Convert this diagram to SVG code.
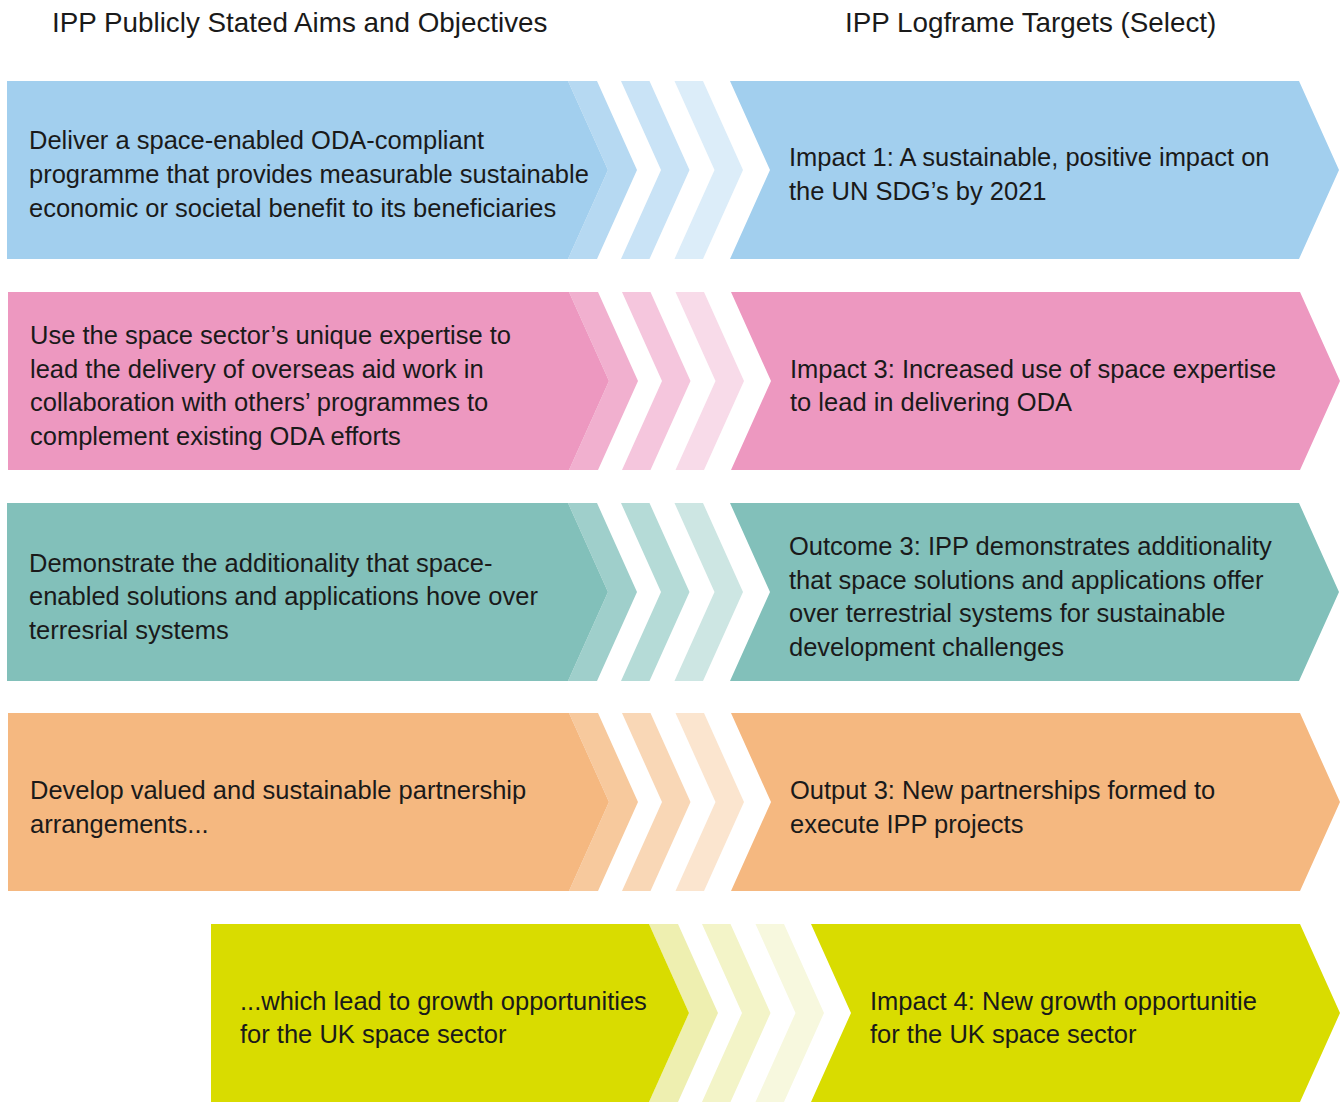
<svg xmlns="http://www.w3.org/2000/svg" width="1341" height="1102" viewBox="0 0 1341 1102">
<style>
text{font-family:"Liberation Sans","DejaVu Sans",sans-serif;font-size:25.5px;fill:#1a1a1a}
.hd{font-size:27.8px}
.blue0{fill:#a2cfee}.blue1{fill:#b6d9f2}.blue2{fill:#c9e3f6}.blue3{fill:#dcedf9}
.pink0{fill:#ed98c0}.pink1{fill:#f1b0cf}.pink2{fill:#f5c6dd}.pink3{fill:#f8dbe9}
.teal0{fill:#82c0ba}.teal1{fill:#9fcfcb}.teal2{fill:#b5dbd7}.teal3{fill:#cde6e3}
.orng0{fill:#f5b880}.orng1{fill:#f7c99d}.orng2{fill:#f9d7b6}.orng3{fill:#fbe5cf}
.yel0{fill:#d9dc00}.yel1{fill:#eeefb0}.yel2{fill:#f3f4c8}.yel3{fill:#f7f8de}
</style>
<rect width="1341" height="1102" fill="#ffffff"/>
<g id="headers">
<text class="hd" x="52" y="32">IPP Publicly Stated Aims and Objectives</text>
<text class="hd" x="845" y="32">IPP Logframe Targets (Select)</text>
</g>
<g id="connectors">
<path class="blue1" d="M568,81H597L637,170L597,259H568L608,170Z"/>
<path class="blue2" d="M621,81H649.5L689.5,170L649.5,259H621L661,170Z"/>
<path class="blue3" d="M674.5,81H703L743,170L703,259H674.5L714.5,170Z"/>
<path class="pink1" d="M569,292H598L638,381L598,470H569L609,381Z"/>
<path class="pink2" d="M622,292H650.5L690.5,381L650.5,470H622L662,381Z"/>
<path class="pink3" d="M675.5,292H704L744,381L704,470H675.5L715.5,381Z"/>
<path class="teal1" d="M568,503H597L637,592L597,681H568L608,592Z"/>
<path class="teal2" d="M621,503H649.5L689.5,592L649.5,681H621L661,592Z"/>
<path class="teal3" d="M674.5,503H703L743,592L703,681H674.5L714.5,592Z"/>
<path class="orng1" d="M569,713H598L638,802L598,891H569L609,802Z"/>
<path class="orng2" d="M622,713H650.5L690.5,802L650.5,891H622L662,802Z"/>
<path class="orng3" d="M675.5,713H704L744,802L704,891H675.5L715.5,802Z"/>
<path class="yel1" d="M649,924H678L718,1013L678,1102H649L689,1013Z"/>
<path class="yel2" d="M702,924H730.5L770.5,1013L730.5,1102H702L742,1013Z"/>
<path class="yel3" d="M755.5,924H784L824,1013L784,1102H755.5L795.5,1013Z"/>
</g>
<g id="aim1">
<path class="blue0" d="M7,81H568L608,170L568,259H7Z"/>
<text x="29" y="149">Deliver a space-enabled ODA-compliant</text>
<text x="29" y="183">programme that provides measurable sustainable</text>
<text x="29" y="217">economic or societal benefit to its beneficiaries</text>
</g>
<g id="target1">
<path class="blue0" d="M730,81H1299L1339,170L1299,259H730L770,170Z"/>
<text x="789" y="166">Impact 1: A sustainable, positive impact on</text>
<text x="789" y="200">the UN SDG’s by 2021</text>
</g>
<g id="aim2">
<path class="pink0" d="M8,292H569L609,381L569,470H8Z"/>
<text x="30" y="344">Use the space sector’s unique expertise to</text>
<text x="30" y="378">lead the delivery of overseas aid work in</text>
<text x="30" y="411">collaboration with others’ programmes to</text>
<text x="30" y="445">complement existing ODA efforts</text>
</g>
<g id="target2">
<path class="pink0" d="M731,292H1300L1340,381L1300,470H731L771,381Z"/>
<text x="790" y="378">Impact 3: Increased use of space expertise</text>
<text x="790" y="411">to lead in delivering ODA</text>
</g>
<g id="aim3">
<path class="teal0" d="M7,503H568L608,592L568,681H7Z"/>
<text x="29" y="572">Demonstrate the additionality that space-</text>
<text x="29" y="605">enabled solutions and applications hove over</text>
<text x="29" y="639">terresrial systems</text>
</g>
<g id="target3">
<path class="teal0" d="M730,503H1299L1339,592L1299,681H730L770,592Z"/>
<text x="789" y="555">Outcome 3: IPP demonstrates additionality</text>
<text x="789" y="589">that space solutions and applications offer</text>
<text x="789" y="622">over terrestrial systems for sustainable</text>
<text x="789" y="656">development challenges</text>
</g>
<g id="aim4">
<path class="orng0" d="M8,713H569L609,802L569,891H8Z"/>
<text x="30" y="799">Develop valued and sustainable partnership</text>
<text x="30" y="833">arrangements...</text>
</g>
<g id="target4">
<path class="orng0" d="M731,713H1300L1340,802L1300,891H731L771,802Z"/>
<text x="790" y="799">Output 3: New partnerships formed to</text>
<text x="790" y="833">execute IPP projects</text>
</g>
<g id="aim5">
<path class="yel0" d="M211,924H649L689,1013L649,1102H211Z"/>
<text x="240" y="1010">...which lead to growth opportunities</text>
<text x="240" y="1043">for the UK space sector</text>
</g>
<g id="target5">
<path class="yel0" d="M811,924H1300L1340,1013L1300,1102H811L851,1013Z"/>
<text x="870" y="1010">Impact 4: New growth opportunitie</text>
<text x="870" y="1043">for the UK space sector</text>
</g>
</svg>
